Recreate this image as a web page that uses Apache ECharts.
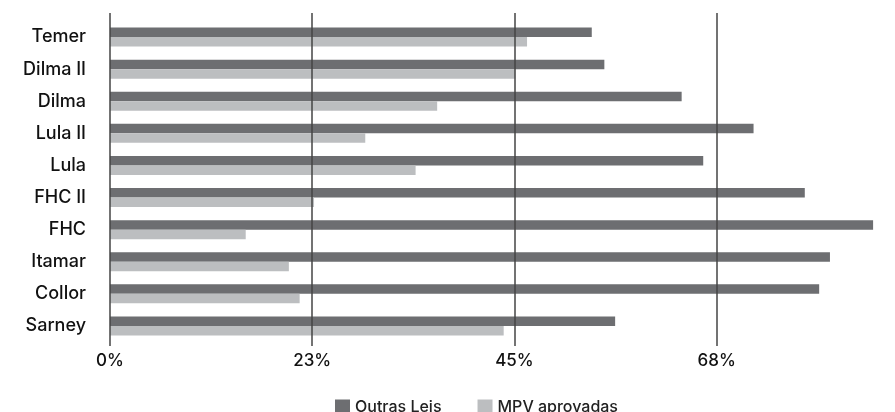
<!DOCTYPE html>
<html>
<head>
<meta charset="utf-8">
<script src="https://cdn.jsdelivr.net/npm/echarts@6/dist/echarts.min.js"></script>
<style>
html,body{margin:0;padding:0;background:#fff;}
#chart{width:895px;height:412px;}
</style>
</head>
<body>
<div id="chart"></div>
<script>
// Categories, top to bottom as drawn
var categories = ["Temer", "Dilma II", "Dilma", "Lula II", "Lula", "FHC II", "FHC", "Itamar", "Collor", "Sarney"];
var outrasLeis = [53.6, 55.0, 63.6, 71.6, 66.0, 77.3, 84.9, 80.1, 78.9, 56.2];
var mpvAprovadas = [46.4, 45.1, 36.4, 28.4, 34.0, 22.7, 15.1, 19.9, 21.1, 43.8];
var seriesNames = ["Outras Leis", "MPV aprovadas"];
var tickValues = [0, 22.5, 45, 67.5];
var axisMax = 85;

var FONT = "Inter";
var chart = echarts.init(document.getElementById('chart'), null, {renderer: 'canvas'});
var option = {
  animation: false,
  backgroundColor: '#ffffff',
  textStyle: {fontFamily: FONT},
  legend: {
    data: seriesNames,
    left: 330,
    top: 394,
    itemWidth: 15,
    itemHeight: 15,
    itemGap: 36,
    icon: 'rect',
    textStyle: {fontFamily: FONT, fontSize: 16, color: '#222', fontWeight: 500}
  },
  grid: [
    {left: 110, width: 764, top: 21, bottom: 70, containLabel: false},
    {left: 110, width: 764, top: 13, bottom: 66, containLabel: false}
  ],
  xAxis: [
    {
      type: 'value', gridIndex: 0, min: 0, max: axisMax, interval: 22.5,
      axisLine: {show: false}, axisTick: {show: false}, axisLabel: {show: false},
      splitLine: {show: false}
    },
    {
      type: 'value', gridIndex: 1, min: 0, max: axisMax, interval: 22.5, z: 5,
      axisLine: {show: false}, axisTick: {show: false},
      axisLabel: {
        show: true, showMaxLabel: false, margin: 6,
        fontFamily: FONT, fontSize: 17, fontWeight: 500, color: '#111',
        formatter: function (v) { return tickValues.indexOf(v) >= 0 ? Math.round(v) + '%' : ''; }
      },
      splitLine: {show: true, showMaxLine: false, lineStyle: {color: '#444', width: 1.5}}
    }
  ],
  yAxis: [
    {
      type: 'category', gridIndex: 0, data: categories, inverse: true,
      axisLine: {show: false}, axisTick: {show: false},
      axisLabel: {margin: 24, fontFamily: FONT, fontSize: 18, fontWeight: 500, color: '#111'}
    },
    {
      type: 'category', gridIndex: 1, data: categories, inverse: true, show: false
    }
  ],
  series: [
    {
      name: seriesNames[0], type: 'bar', xAxisIndex: 0, yAxisIndex: 0,
      data: outrasLeis, barWidth: 9.5, barGap: '0%',
      itemStyle: {color: '#6d6e71'}
    },
    {
      name: seriesNames[1], type: 'bar', xAxisIndex: 0, yAxisIndex: 0,
      data: mpvAprovadas, barWidth: 9.5, barGap: '0%',
      itemStyle: {color: '#bcbec0'}
    }
  ]
};
chart.setOption(option);
</script>
</body>
</html>
